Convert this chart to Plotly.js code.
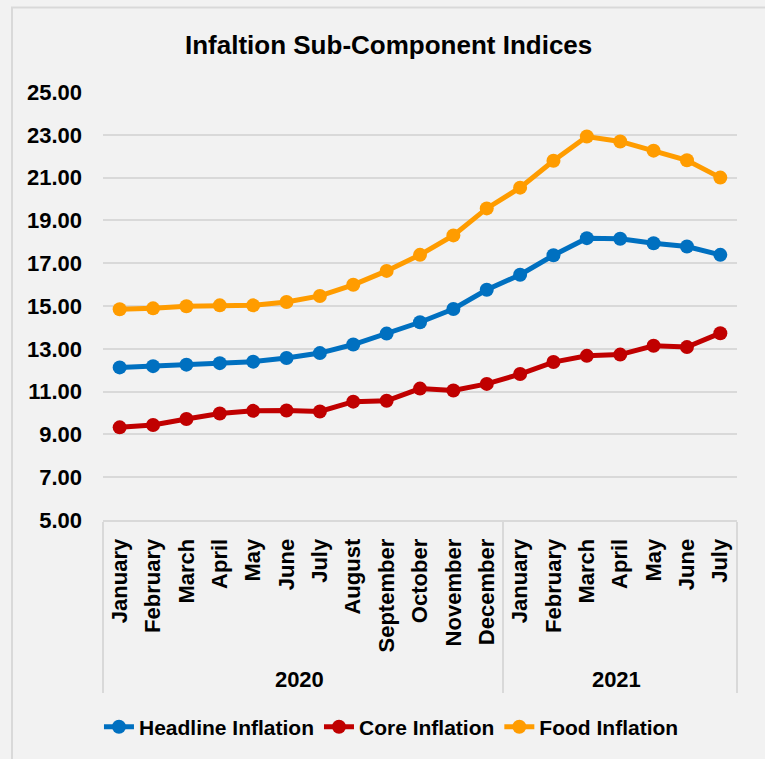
<!DOCTYPE html>
<html>
<head>
<meta charset="utf-8">
<script src="https://cdn.plot.ly/plotly-3.0.1.min.js"></script>
<style>html,body{margin:0;padding:0;background:#f2f2f2;}#chart{width:765px;height:759px;}</style>
</head>
<body>
<div id="chart"></div>
<script>
const yearLabels = ['2020','2020','2020','2020','2020','2020','2020','2020','2020','2020','2020','2020',
                    '2021','2021','2021','2021','2021','2021','2021'];
const monthLabels = ['January','February','March','April','May','June','July','August','September','October','November','December',
                     'January','February','March','April','May','June','July'];
const headline = [12.13,12.19,12.26,12.33,12.40,12.57,12.80,13.20,13.71,14.24,14.86,15.76,16.46,17.37,18.17,18.14,17.93,17.78,17.39];
const core     = [9.33,9.44,9.72,9.98,10.10,10.12,10.07,10.53,10.57,11.14,11.05,11.36,11.82,12.38,12.67,12.73,13.14,13.08,13.73];
const food     = [14.85,14.89,14.99,15.03,15.03,15.19,15.47,15.99,16.64,17.39,18.30,19.56,20.53,21.79,22.92,22.69,22.26,21.81,21.00];

const FONT = 'Liberation Sans, Arial, sans-serif';
function series(name, y, color) {
  return {
    type: 'scatter', mode: 'lines+markers', name: name,
    x: [yearLabels, monthLabels], y: y,
    line: {color: color, width: 5},
    marker: {color: color, size: 14}
  };
}
const data = [
  series('Headline Inflation', headline, '#0070c0'),
  series('Core Inflation', core, '#c00000'),
  series('Food Inflation', food, '#ff9c00')
];
const layout = {
  width: 765, height: 759,
  paper_bgcolor: '#f2f2f2', plot_bgcolor: '#f2f2f2',
  margin: {l: 103, r: 28, t: 92, b: 237},
  title: {text: 'Infaltion Sub-Component Indices', x: 0.508, xanchor: 'center', y: 0.941, yanchor: 'middle',
          font: {family: FONT, size: 26, color: '#000', weight: 'bold'}},
  showlegend: true,
  legend: {orientation: 'h', x: 0.455, xanchor: 'center', y: -0.484, yanchor: 'middle',
           font: {family: FONT, size: 21, color: '#000', weight: 'bold'}, bgcolor: 'rgba(0,0,0,0)'},
  xaxis: {type: 'multicategory', range: [-0.5, 18.5], tickangle: -90, showgrid: false, showline: true,
          linecolor: '#d9d9d9', linewidth: 2, ticks: '', ticklabelstandoff: 8,
          showdividers: true, dividercolor: '#d9d9d9', dividerwidth: 2,
          tickfont: {family: FONT, size: 22, color: '#000', weight: 'bold'}},
  yaxis: {range: [5, 25], tick0: 5, dtick: 2, tickformat: '.2f', showgrid: true, gridcolor: '#d9d9d9', gridwidth: 2,
          zeroline: false, showline: false, ticks: '', ticklabelstandoff: 20,
          tickfont: {family: FONT, size: 22, color: '#000', weight: 'bold'}},
  shapes: [{type: 'rect', xref: 'paper', yref: 'paper', x0: -0.1435, x1: 1.2, y0: -0.7, y1: 1.1977,
            line: {color: '#d9d9d9', width: 2}, fillcolor: 'rgba(0,0,0,0)', layer: 'below'}]
};
Plotly.newPlot('chart', data, layout, {displayModeBar: false});
</script>
</body>
</html>
